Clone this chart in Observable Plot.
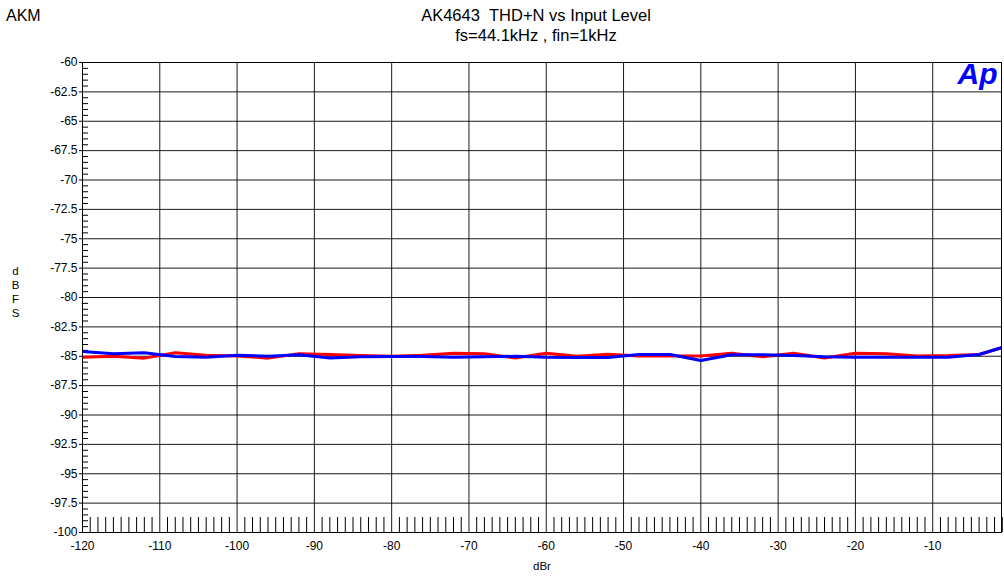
<!DOCTYPE html>
<html>
<head>
<meta charset="utf-8">
<script src="https://cdn.jsdelivr.net/npm/d3@7"></script>
<script src="https://cdn.jsdelivr.net/npm/@observablehq/plot@0.6"></script>
<style>
  html, body { margin: 0; padding: 0; background: #fff; }
  body { width: 1004px; height: 577px; position: relative; overflow: hidden; font-family: "Liberation Sans", Arial, sans-serif; }
  #brand { position: absolute; left: 6px; top: 7px; font-size: 16px; color: #000; }
  #title { position: absolute; left: 0; width: 1072px; top: 5px; text-align: center; font-size: 16.5px; line-height: 20px; color: #000; }
  #chart { position: absolute; left: 0; top: 50px; }
</style>
</head>
<body>
<div id="brand">AKM</div>
<div id="title">AK4643&nbsp;&nbsp;THD+N vs Input Level<br>fs=44.1kHz , fin=1kHz</div>
<div id="chart"></div>
<script>
// Input level (dBr), sampled every 4 dB
const inputLevel = [-120,-116,-112,-108,-104,-100,-96,-92,-88,-84,-80,-76,-72,-68,-64,-60,-56,-52,-48,-44,-40,-36,-32,-28,-24,-20,-16,-12,-8,-4,0];
// THD+N (dBFS), red channel
const redSeries = [-85.08,-85.0,-85.16,-84.70,-84.91,-84.97,-85.16,-84.79,-84.85,-84.94,-85.0,-84.92,-84.74,-84.79,-85.14,-84.74,-85.0,-84.82,-84.97,-84.97,-84.97,-84.74,-85.05,-84.74,-85.14,-84.74,-84.79,-84.97,-84.94,-84.85,-84.05];
// THD+N (dBFS), blue channel
const blueSeries = [-84.60,-84.79,-84.70,-85.02,-85.08,-84.91,-85.0,-84.88,-85.14,-85.05,-85.02,-85.02,-85.08,-85.05,-85.0,-85.08,-85.10,-85.10,-84.85,-84.85,-85.36,-84.88,-84.88,-84.94,-85.05,-85.08,-85.08,-85.08,-85.08,-84.85,-84.05];

const xMajorTicks = [-120,-110,-100,-90,-80,-70,-60,-50,-40,-30,-20,-10];
const yMajorTicks = [-60,-62.5,-65,-67.5,-70,-72.5,-75,-77.5,-80,-82.5,-85,-87.5,-90,-92.5,-95,-97.5,-100];
const xMinorTicks = d3.range(-119, 0, 1).filter(d => d % 10 !== 0);
const yMinorTicks = d3.range(-100, -60, 0.5).filter(d => d % 2.5 !== 0);

const rows = [];
inputLevel.forEach((x, i) => {
  rows.push({x, y: redSeries[i], ch: "red"});
});
inputLevel.forEach((x, i) => {
  rows.push({x, y: blueSeries[i], ch: "blue"});
});

const W = 1004, H = 527;
const mL = 82, mR = 3, mT = 12, mB = 45;
const plotW = W - mL - mR, plotH = H - mT - mB;

const chart = Plot.plot({
  width: W,
  height: H,
  marginLeft: mL,
  marginRight: mR,
  marginTop: mT,
  marginBottom: mB,
  style: { fontFamily: "'Liberation Sans', Arial, sans-serif", fontSize: "12px", color: "#000", background: "#fff" },
  x: { domain: [-120, -1.1], ticks: xMajorTicks, label: null },
  y: { domain: [-100, -60], ticks: yMajorTicks, label: null },
  marks: [
    Plot.gridX(xMajorTicks, { stroke: "#000", strokeOpacity: 0.9, strokeWidth: 1 }),
    Plot.gridY(yMajorTicks, { stroke: "#000", strokeOpacity: 0.9, strokeWidth: 1 }),
    Plot.tickX(xMinorTicks, { x: d => d, stroke: "#000", strokeWidth: 1, insetTop: plotH - 15 }),
    Plot.tickY(yMinorTicks, { y: d => d, stroke: "#000", strokeWidth: 1, insetRight: plotW - 6 }),
    Plot.axisX(xMajorTicks, { tickSize: 0, tickPadding: 9, fontSize: 12, tickFormat: d => String(d) }),
    Plot.axisY(yMajorTicks, { tickSize: 3, tickPadding: 2, fontSize: 12, tickFormat: d => String(d) }),
    Plot.line(rows, { x: "x", y: "y", z: "ch", stroke: d => d.ch === "red" ? "#ff0000" : "#0000ff", strokeWidth: 3, clip: true }),
    Plot.frame({ stroke: "#000", strokeWidth: 1 }),
    Plot.text(["Ap"], { frameAnchor: "top-right", dx: -4, dy: 0, fontSize: 30, fontWeight: "bold", fontStyle: "italic", fill: "#0000ff", fontFamily: "'Liberation Sans', Arial, sans-serif", lineAnchor: "top" }),
    Plot.text(["d\nB\nF\nS"], { frameAnchor: "left", dx: -67, dy: -6, fontSize: 11.5, lineHeight: 1.2, textAnchor: "middle", fill: "#000" }),
    Plot.text(["dBr"], { frameAnchor: "bottom", dy: 34, fontSize: 11.5, lineAnchor: "middle", fill: "#000" })
  ]
});
document.getElementById("chart").appendChild(chart);
</script>
</body>
</html>
